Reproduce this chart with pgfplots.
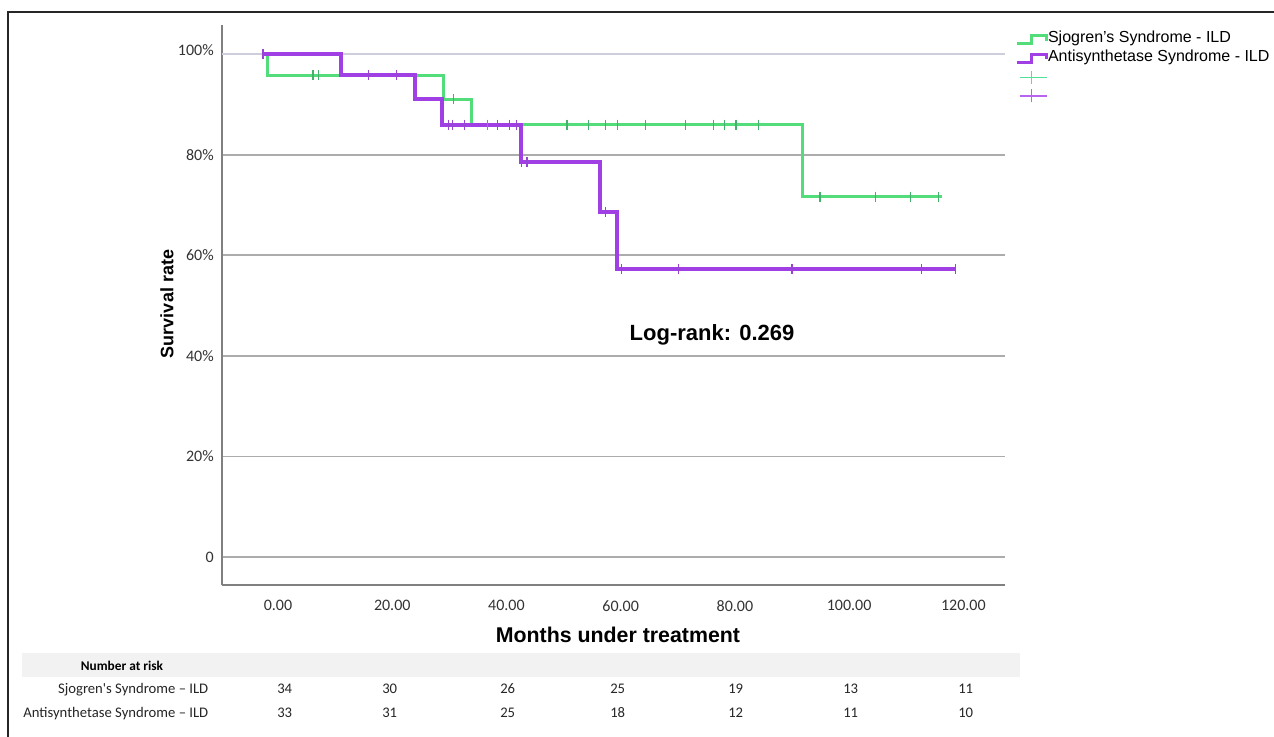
\documentclass[border=0pt]{standalone}
\usepackage{fontspec}
\setmainfont{Liberation Sans}
\newfontfamily\carlito{Carlito}
\usepackage{pgfplots}
\pgfplotsset{compat=1.18}
\definecolor{sjg}{RGB}{82,220,122}
\definecolor{asp}{RGB}{160,64,228}
\definecolor{sjgc}{RGB}{70,175,110}
\definecolor{aspc}{RGB}{150,70,210}
\definecolor{sjgl}{RGB}{80,225,155}
\definecolor{aspl}{RGB}{185,100,240}
\definecolor{gridc}{RGB}{172,172,172}
\definecolor{gridt}{RGB}{205,205,220}
\definecolor{axc}{RGB}{128,128,128}
\begin{document}
\begin{tikzpicture}
\path[use as bounding box] (0,0) rectangle (955.5pt,552pt);
\clip (0,0) rectangle (955.5pt,552pt);
\begin{scope}[x=0.75pt,y=0.75pt]
\fill[white] (0,0) rectangle (1274,736);
\draw[black!85, line width=0.9pt] (8,-5) -- (8,724) -- (1280,724);
\fill[black!5] (22,59) rectangle (1020,83);
\node[font=\carlito\bfseries\fontsize{10}{12}\selectfont, anchor=base] at (122,66) {Number at risk};
\node[font=\carlito\fontsize{11}{13}\selectfont, anchor=base east, text=black!85] at (213,43) {Sjogren's Syndrome – ILD};
\node[font=\carlito\fontsize{11}{13}\selectfont, anchor=base east, text=black!85] at (213,19) {Antisynthetase Syndrome – ILD};
\foreach \xx/\a/\b in {277/34/33, 382/30/31, 500/26/25, 610/25/18, 728/19/12, 843/13/11, 958/11/10}{
  \node[font=\carlito\fontsize{11}{13}\selectfont, anchor=base west, inner sep=0pt, text=black!85] at (\xx,43) {\a};
  \node[font=\carlito\fontsize{11}{13}\selectfont, anchor=base west, inner sep=0pt, text=black!85] at (\xx,19) {\b};
}
\end{scope}
\begin{axis}[
  at={(166.5pt,113.25pt)}, anchor=south west,
  scale only axis, width=587.25pt, height=420pt,
  xmin=-9.81, xmax=127.3, ymin=-5.57, ymax=105.8,
  axis lines*=left,
  axis line style={-, draw=axc, line width=1.4pt},
  major tick length=0pt, tick style={draw=none},
  xtick={0,20,40,60,80,100,120},
  xticklabels={0.00,20.00,40.00,60.00,80.00,100.00,120.00},
  ytick={0,20,40,60,80},
  yticklabels={0,20\%,40\%,60\%,80\%},
  extra y ticks={100}, extra y tick labels={100\%},
  extra y tick style={grid style={draw=gridt, line width=1.2pt}, yticklabel style={yshift=3pt}},
  ymajorgrids, grid style={draw=gridc, line width=1.2pt},
  /pgf/number format/assume math mode=true,
  xticklabel style={font=\carlito\fontsize{12}{14}\selectfont, text=black!80, inner sep=0pt, anchor=north, yshift=-11.25pt},
  yticklabel style={font=\carlito\fontsize{12}{14}\selectfont, text=black!80, inner sep=0pt, anchor=east, xshift=-6pt},
  xlabel={Months under treatment},
  xlabel style={at={(axis description cs:0.5057,-0.0884)}, anchor=center, font=\bfseries\fontsize{16}{18}\selectfont},
  ylabel={Survival rate},
  ylabel style={at={(axis description cs:-0.0702,0.5018)}, anchor=center, font=\bfseries\fontsize{13.5}{15}\selectfont},
  legend style={at={(axis description cs:1.0128,0.99)}, anchor=north west, draw=none, fill=none,
    inner sep=0pt, outer sep=0pt, row sep=0pt,
    font=\fontsize{12}{14}\selectfont,
    nodes={inner sep=0pt, text height=9pt, text depth=5pt}},
  legend cell align=left,
]
\addplot[sjg, line width=2.25pt, const plot,
  legend image code/.code={\draw[sjg, line width=2.25pt] (0pt,-3pt) -- (11.25pt,-3pt) -- (11.25pt,3pt) -- (22.5pt,3pt) -- (22.5pt,-0.5pt);}]
  coordinates {(-2.63,100) (-1.93,95.83) (28.9,91.04) (33.8,85.98) (91.9,71.65) (116.3,71.65)};
\addlegendentry{Sjogren's Syndrome - ILD}
\addplot[asp, line width=3pt, const plot,
  legend image code/.code={\draw[asp, line width=2.25pt] (0pt,-3pt) -- (11.25pt,-3pt) -- (11.25pt,3pt) -- (22.5pt,3pt) -- (22.5pt,-0.5pt);}]
  coordinates {(-2.63,100) (11.0,95.83) (24.0,91.04) (28.7,85.98) (42.6,78.5) (56.4,68.7) (59.4,57.2) (118.6,57.2)};
\addlegendentry{Antisynthetase Syndrome - ILD}
\addplot[only marks, mark=|, mark size=3.75pt, sjgc, mark options={line width=0.8pt},
  legend image code/.code={\draw[sjgl, line width=1pt] (2.25pt,0pt) -- (22.5pt,0pt); \draw[sjgl, line width=1pt] (11.25pt,-4.9pt) -- (11.25pt,4.9pt);}]
  coordinates {(6.13,95.83) (7.01,95.83) (30.65,91.04)
   (36.6,85.98) (50.6,85.98) (54.3,85.98) (57.4,85.98) (59.4,85.98) (64.3,85.98) (71.3,85.98) (76.2,85.98) (78.1,85.98) (80.2,85.98) (84.1,85.98)
   (94.9,71.65) (104.7,71.65) (110.7,71.65) (115.6,71.65)};
\addlegendentry{}
\addplot[only marks, mark=|, mark size=3.75pt, aspc, mark options={line width=0.8pt},
  legend image code/.code={\draw[aspl, line width=1pt] (2.25pt,0pt) -- (22.5pt,0pt); \draw[aspl, line width=1pt] (11.25pt,-4.9pt) -- (11.25pt,4.9pt);}]
  coordinates {(-2.63,100) (15.9,95.83) (20.8,95.83)
   (29.8,85.98) (30.6,85.98) (32.7,85.98) (38.5,85.98) (40.6,85.98) (41.7,85.98)
   (42.7,78.5) (43.6,78.5) (57.3,68.7)
   (60.2,57.2) (70.2,57.2) (90.0,57.2) (112.6,57.2) (118.6,57.2)};
\addlegendentry{}
\node[anchor=base, font=\bfseries\fontsize{16.5}{18}\selectfont] at (axis cs:76.0,43.1) {Log-rank: 0.269};
\end{axis}
\end{tikzpicture}
\end{document}
